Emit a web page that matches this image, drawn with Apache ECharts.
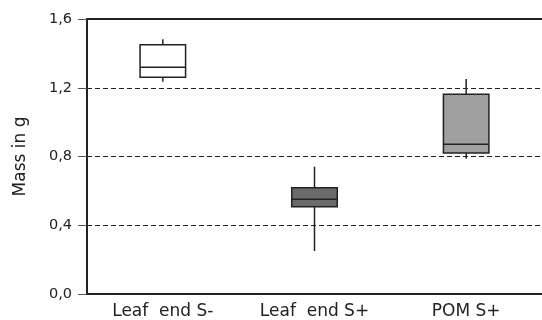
<!DOCTYPE html>
<html><head><meta charset="utf-8">
<script src="https://cdn.jsdelivr.net/npm/echarts@6/dist/echarts.min.js"></script>
<style>html,body{margin:0;padding:0;background:#fff}#c{width:542px;height:320px}</style>
</head><body><div id="c"></div>
<script>
const categories = ['Leaf  end S-', 'Leaf  end S+', 'POM S+'];
// [low whisker, Q1, median, Q3, high whisker]
const leafEndSMinus = [1.235, 1.261, 1.319, 1.450, 1.482];
const leafEndSPlus = [0.250, 0.508, 0.551, 0.618, 0.741];
const pomSPlus = [0.787, 0.820, 0.871, 1.162, 1.251];
const boxColors = ['#ffffff', '#6b6b6b', '#a0a0a0'];
const yTicks = [0, 0.4, 0.8, 1.2, 1.6];
const yTitle = 'Mass in g';

const boxes = [leafEndSMinus, leafEndSPlus, pomSPlus];
const FONT = 'DejaVu Sans';
const chart = echarts.init(document.getElementById('c'), null, {renderer: 'canvas'});

function renderBox(params, api) {
  const i = api.value(0);
  const lo = api.coord([i, api.value(1)]);
  const q1 = api.coord([i, api.value(2)]);
  const md = api.coord([i, api.value(3)]);
  const q3 = api.coord([i, api.value(4)]);
  const hi = api.coord([i, api.value(5)]);
  const band = api.size([1, 0])[0];
  const w = band * 0.30;
  const x = lo[0];
  const stroke = {stroke: '#222', lineWidth: 1.5};
  return {
    type: 'group',
    children: [
      {type: 'line', shape: {x1: x, y1: hi[1], x2: x, y2: q3[1]}, style: stroke},
      {type: 'line', shape: {x1: x, y1: q1[1], x2: x, y2: lo[1]}, style: stroke},
      {type: 'rect', shape: {x: x - w / 2, y: q3[1], width: w, height: q1[1] - q3[1]},
        style: {fill: boxColors[i], stroke: '#222', lineWidth: 1.5}},
      {type: 'line', shape: {x1: x - w / 2, y1: md[1], x2: x + w / 2, y2: md[1]}, style: stroke}
    ]
  };
}

chart.setOption({
  animation: false,
  backgroundColor: '#fff',
  grid: {left: 87, right: 0, top: 19, bottom: 26},
  xAxis: [{
    type: 'category', data: categories, boundaryGap: true,
    axisLine: {lineStyle: {color: '#222', width: 2}},
    axisTick: {show: false},
    axisLabel: {color: '#222', fontSize: 17, fontFamily: FONT, margin: 9},
    splitLine: {show: false}
  }, {
    type: 'category', data: categories, position: 'top',
    axisLine: {show: true, lineStyle: {color: '#222', width: 2}},
    axisTick: {show: false}, axisLabel: {show: false}
  }],
  yAxis: {
    type: 'value', min: yTicks[0], max: yTicks[yTicks.length - 1], interval: 0.4,
    name: yTitle, nameLocation: 'middle', nameGap: 58, nameRotate: 90,
    nameTextStyle: {color: '#222', fontSize: 17, fontFamily: FONT},
    axisLine: {show: true, lineStyle: {color: '#222', width: 2}},
    axisTick: {show: true, length: 9, lineStyle: {color: '#555', width: 1}},
    axisLabel: {color: '#222', fontSize: 14.5, fontFamily: FONT, margin: 15,
      formatter: v => v.toFixed(1).replace('.', ',')},
    splitLine: {show: true, lineStyle: {color: '#222', type: [5, 3], width: 1}}
  },
  series: [{
    type: 'custom',
    renderItem: renderBox,
    encode: {x: 0, y: [1, 2, 3, 4, 5]},
    data: boxes.map((b, i) => [i].concat(b))
  }]
});
</script></body></html>
